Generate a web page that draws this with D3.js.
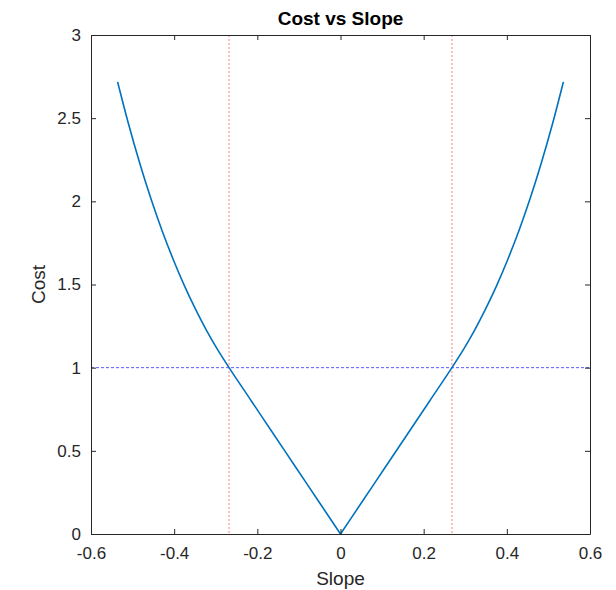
<!DOCTYPE html>
<html>
<head>
<meta charset="utf-8">
<script src="https://cdn.jsdelivr.net/npm/d3@7"></script>
<style>
body { margin: 0; background: #fff; }
text { font-family: "Liberation Sans", Arial, sans-serif; }
</style>
</head>
<body>
<svg id="drawing_region"></svg>
<script>
// cost, one side (curve is mirrored about slope 0)
const slopes = [0, 0.0536, 0.1072, 0.1608, 0.2144, 0.268, 0.2948, 0.3216, 0.3484, 0.3752, 0.402, 0.4288, 0.4556, 0.4824, 0.5092, 0.536];
const costs  = [0, 0.2,    0.4,    0.6,    0.8,    1.0,   1.105,  1.221,  1.35,   1.492,  1.649, 1.822,  2.014,  2.226,  2.46,   2.718];
const x_ticks = [-0.6, -0.4, -0.2, 0, 0.2, 0.4, 0.6];
const y_ticks = [0, 0.5, 1, 1.5, 2, 2.5, 3];
const vlines = [-0.268, 0.268];
const hline = 1;

var config = {
  parent: '#drawing_region',
  width: 616,
  height: 590,
  margin: {top:35, right:26, bottom:56, left:91}
};

const right_side = slopes.map((s, i) => ({x: s, y: costs[i]}));
const left_side = slopes.map((s, i) => ({x: -s, y: costs[i]})).reverse();

const svg = d3.select(config.parent)
  .attr('width', config.width)
  .attr('height', config.height);
const chart = svg.append('g')
  .attr('transform', `translate(${config.margin.left}, ${config.margin.top})`);

const inner_width = config.width - config.margin.left - config.margin.right;
const inner_height = config.height - config.margin.top - config.margin.bottom;

const xscale = d3.scaleLinear().domain([-0.6, 0.6]).range([0, inner_width]);
const yscale = d3.scaleLinear().domain([0, 3]).range([inner_height, 0]);

const axisColor = '#262626';
const fmt = d => String(d);

// reference lines
chart.selectAll('.vline').data(vlines).enter().append('line')
  .attr('x1', d => xscale(d)).attr('x2', d => xscale(d))
  .attr('y1', 0).attr('y2', inner_height)
  .attr('stroke', '#ff8080').attr('stroke-width', 1)
  .attr('stroke-dasharray', '2,2');
chart.append('line')
  .attr('x1', 0).attr('x2', inner_width)
  .attr('y1', yscale(hline)).attr('y2', yscale(hline))
  .attr('stroke', '#5a5aff').attr('stroke-width', 1)
  .attr('stroke-dasharray', '3,2');

// curve, each half drawn separately so the corner at 0 stays sharp
const line = d3.line()
  .x(d => xscale(d.x))
  .y(d => yscale(d.y))
  .curve(d3.curveMonotoneX);
chart.selectAll('.curve').data([left_side, right_side]).enter().append('path')
  .attr('fill', 'none')
  .attr('stroke', '#0072BD')
  .attr('stroke-width', 1.6)
  .attr('stroke-linejoin', 'round')
  .attr('d', line);

// axes (ticks inward, mirrored on top/right)
const xaxis = d3.axisBottom(xscale).tickValues(x_ticks).tickFormat(fmt).tickSizeInner(-5).tickSizeOuter(0).tickPadding(13);
const yaxis = d3.axisLeft(yscale).tickValues(y_ticks).tickFormat(fmt).tickSizeInner(-5).tickSizeOuter(0).tickPadding(10);
const xaxis_top = d3.axisTop(xscale).tickValues(x_ticks).tickFormat('').tickSizeInner(-5).tickSizeOuter(0);
const yaxis_right = d3.axisRight(yscale).tickValues(y_ticks).tickFormat('').tickSizeInner(-5).tickSizeOuter(0);

const gx = chart.append('g').attr('transform', `translate(0, ${inner_height})`).call(xaxis);
const gy = chart.append('g').call(yaxis);
const gxt = chart.append('g').call(xaxis_top);
const gyr = chart.append('g').attr('transform', `translate(${inner_width}, 0)`).call(yaxis_right);

[gx, gy, gxt, gyr].forEach(g => {
  g.selectAll('path').attr('stroke', axisColor).attr('stroke-width', 1);
  g.selectAll('line').attr('stroke', axisColor).attr('stroke-width', 1);
  g.selectAll('text').attr('fill', axisColor).attr('font-size', 17)
    .attr('font-family', '"Liberation Sans", Arial, sans-serif');
});

// labels
chart.append('text')
  .attr('x', inner_width / 2)
  .attr('y', -10)
  .attr('text-anchor', 'middle')
  .attr('font-size', 19)
  .attr('font-weight', 'bold')
  .attr('fill', '#000')
  .text('Cost vs Slope');

chart.append('text')
  .attr('x', inner_width / 2)
  .attr('y', inner_height + 51)
  .attr('text-anchor', 'middle')
  .attr('font-size', 19)
  .attr('fill', axisColor)
  .text('Slope');

chart.append('text')
  .attr('transform', `translate(-46, ${inner_height / 2}) rotate(-90)`)
  .attr('text-anchor', 'middle')
  .attr('font-size', 19)
  .attr('fill', axisColor)
  .text('Cost');
</script>
</body>
</html>
